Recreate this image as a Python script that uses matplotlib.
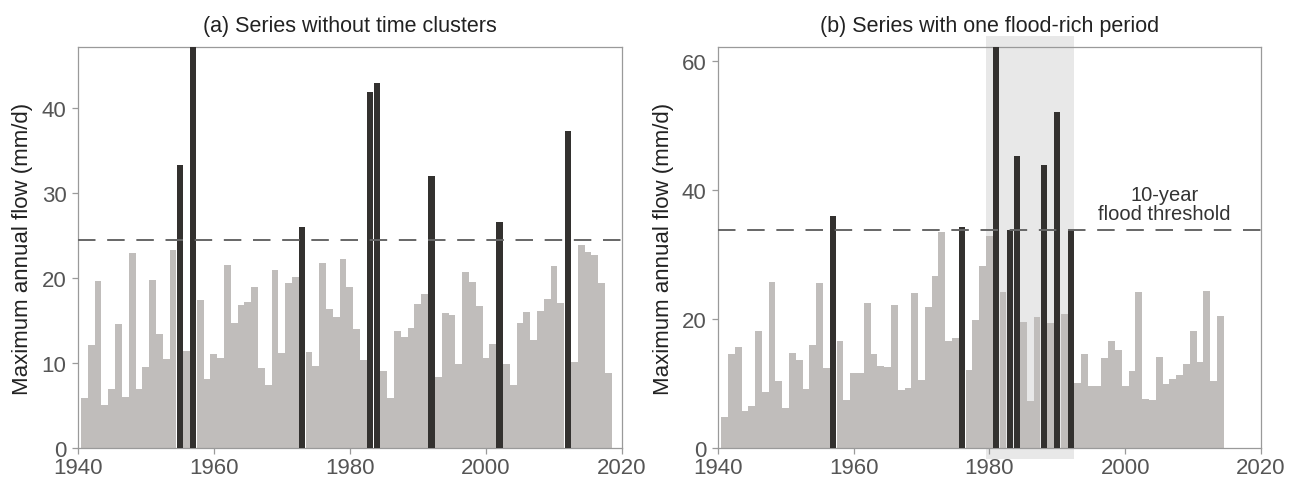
#!usr/bin/env python3
"""
Annual maximum flow series, with and without a flood-rich period
"""
import numpy as np
import matplotlib.pyplot as plt

plt.rcParams['font.family'] = ['Liberation Sans', 'DejaVu Sans']

# (a) series without time clusters, 1941-2018
years_a = np.arange(1941, 2019)
flow_a = [5.9, 12.2, 19.7, 5.1, 7.0, 14.6, 6.0, 23.0, 7.0, 9.6,
          19.8, 13.5, 10.5, 23.3, 33.4, 11.4, 49.0, 17.5, 8.1, 11.1,
          10.6, 21.6, 14.7, 16.9, 17.2, 19.0, 9.4, 7.4, 21.0, 11.2,
          19.4, 20.2, 26.0, 11.3, 9.7, 21.8, 16.4, 15.5, 22.3, 19.0,
          14.0, 10.4, 41.9, 43.0, 9.1, 5.9, 13.8, 13.1, 14.2, 17.0,
          18.2, 32.0, 8.4, 15.9, 15.7, 9.9, 20.8, 19.6, 16.8, 10.6,
          12.3, 26.6, 9.9, 7.5, 14.8, 16.1, 12.8, 16.2, 17.6, 21.5,
          17.1, 37.4, 10.2, 23.9, 23.1, 22.7, 19.5, 8.9]
flood_years_a = [1955, 1957, 1973, 1983, 1984, 1992, 2002, 2012]
threshold_a = 24.5

# (b) series with one flood-rich period, 1941-2014
years_b = np.arange(1941, 2015)
flow_b = [4.9, 14.6, 15.7, 5.8, 6.6, 18.2, 8.8, 25.8, 10.4, 6.3,
          14.8, 13.7, 9.2, 16.1, 25.6, 12.4, 36.1, 16.7, 7.5, 11.7,
          11.7, 22.6, 14.6, 12.8, 12.6, 22.2, 9.0, 9.3, 24.1, 10.6,
          21.9, 26.8, 33.6, 16.7, 17.1, 34.4, 12.1, 19.9, 28.3, 33.0,
          64.0, 24.3, 33.9, 45.3, 19.6, 7.4, 20.3, 44.0, 19.4, 52.2,
          20.8, 33.9, 10.2, 14.7, 9.7, 9.6, 14.0, 16.7, 15.2, 9.6,
          12.0, 24.3, 7.6, 7.5, 14.1, 9.9, 10.7, 11.4, 13.0, 18.2,
          13.4, 24.4, 10.4, 20.5]
flood_years_b = [1957, 1976, 1981, 1983, 1984, 1988, 1990, 1992]
threshold_b = 33.85
flood_period = (1979.5, 1992.5)

GREY = "#c0bdbb"
BLACK = "#33312f"
SPINE = "#9a9a9a"
TEXT = "#555555"


def draw_panel(ax, years, flows, flood_years, threshold, ylim, yticks, title):
    flows = np.array(flows)
    is_flood = np.isin(years, flood_years)
    ax.bar(years[~is_flood], flows[~is_flood], width=1.0, color=GREY,
           linewidth=0, zorder=2)
    ax.bar(years[is_flood], flows[is_flood], width=0.9, color=BLACK,
           linewidth=0, zorder=3)
    ax.axhline(threshold, color="#666666", lw=1.4, dashes=(9, 6), zorder=4)
    ax.set_xlim(1940, 2020)
    ax.set_ylim(0, ylim)
    ax.set_xticks([1940, 1960, 1980, 2000, 2020])
    ax.set_yticks(yticks)
    ax.set_ylabel("Maximum annual flow (mm/d)", fontsize=16, color="#222222",
                  labelpad=6)
    ax.set_title(title, fontsize=15.5, color="#222222", pad=12)
    for spine in ax.spines.values():
        spine.set_color(SPINE)
        spine.set_linewidth(0.9)
    ax.tick_params(axis="both", direction="out", length=4, width=0.9,
                   color=SPINE, labelcolor=TEXT, labelsize=16, pad=4)
    ax.tick_params(axis="x", pad=2.5)


def main():
    fig = plt.figure(figsize=(13.01, 4.81), dpi=100)
    ax1 = fig.add_axes([0.0597, 0.0659, 0.4184, 0.8337])
    ax2 = fig.add_axes([0.5517, 0.0659, 0.4176, 0.8337])

    draw_panel(ax1, years_a, flow_a, flood_years_a, threshold_a, 47.2,
               [0, 10, 20, 30, 40], "(a) Series without time clusters")
    draw_panel(ax2, years_b, flow_b, flood_years_b, threshold_b, 62.2,
               [0, 20, 40, 60], "(b) Series with one flood-rich period")

    # shaded flood-rich period, running a little past the axes frame
    ax2.axvspan(flood_period[0], flood_period[1], ymin=-0.027, ymax=1.027,
                color="#e8e8e8", lw=0, zorder=1, clip_on=False)
    ax2.text(2005.8, 35.0, "10-year\nflood threshold", ha="center",
             va="bottom", fontsize=14.5, color="#333333", linespacing=0.95)

    fig.savefig("out.png", dpi=100)


if __name__ == "__main__":
    main()
